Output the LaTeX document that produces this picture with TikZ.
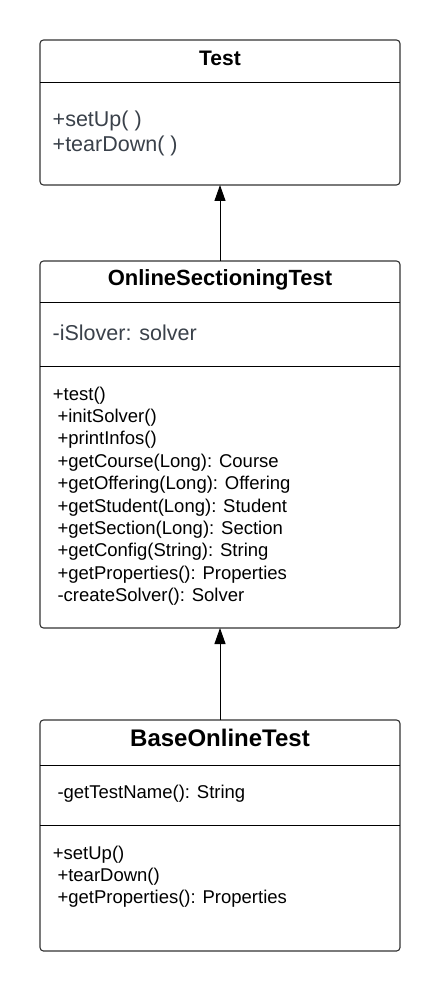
\documentclass[tikz,border=0pt]{standalone}
\usepackage{fontspec}
\setmainfont{Liberation Sans}
\usetikzlibrary{arrows.meta}
\definecolor{edge}{HTML}{333333}
\definecolor{soft}{HTML}{3A414A}
\begin{document}
\begin{tikzpicture}[x=1pt,y=-1pt,
  classbox/.style={draw=edge,line width=1.1pt,rounded corners=3.5pt,inner sep=0pt,outer sep=0pt,minimum width=360pt,anchor=north west,fill=white},
  sep/.style={draw=black,line width=1pt},
  title/.style={anchor=base,inner sep=0pt,font=\bfseries},
  big/.style={anchor=base west,inner sep=0pt,text=soft,font=\fontsize{21.5}{25}\selectfont},
  meth/.style={anchor=base west,inner sep=0pt,text=black,font=\fontsize{18.5}{22}\selectfont},
  inherit/.style={draw=black,line width=1pt,-{Triangle[width=11pt,length=16pt]}}
]
\useasboundingbox (0,0) rectangle (440,992);
% Test
\node[classbox,minimum height=145pt] (test) at (40,40) {};
\draw[sep] (40,82.3) -- (400,82.3);
\node[title,font=\bfseries\fontsize{21}{25}\selectfont] (testT) at (220,66) {Test};
\node[big] (t1) at (52.5,126.7) {+setUp( )};
\node[big] (t2) at (52.5,151.7) {+tearDown( )};
% OnlineSectioningTest
\node[classbox,minimum height=367pt] (ost) at (40,261) {};
\draw[sep] (40,302) -- (400,302);
\draw[sep] (40,366.5) -- (400,366.5);
\node[title,font=\bfseries\fontsize{22}{26}\selectfont] (ostT) at (220,285) {OnlineSectioningTest};
\node[big] (o0) at (52.5,340) {-iSlover: solver};
\node[meth] (m0) at (52.7,400) {+test()};
\foreach \t [count=\i] in {+initSolver(),+printInfos(),+getCourse(Long): Course,+getOffering(Long): Offering,+getStudent(Long): Student,+getSection(Long): Section,+getConfig(String): String,+getProperties(): Properties,-createSolver(): Solver}
  \node[meth] (m\i) at (57.3,400+22.4*\i) {\t};
% BaseOnlineTest
\node[classbox,minimum height=231pt] (bot) at (40,720) {};
\draw[sep] (40,765) -- (400,765);
\draw[sep] (40,825.5) -- (400,825.5);
\node[title,font=\bfseries\fontsize{24}{28}\selectfont] (botT) at (220,746.7) {BaseOnlineTest};
\node[meth] (b0) at (57.3,798) {-getTestName(): String};
\node[meth] (b1) at (52.7,859) {+setUp()};
\node[meth] (b2) at (57.3,881) {+tearDown()};
\node[meth] (b3) at (57.3,903.3) {+getProperties(): Properties};
% inheritance
\draw[inherit] (ost.north) -- (test.south);
\draw[inherit] (bot.north) -- (ost.south);
\end{tikzpicture}
\end{document}
